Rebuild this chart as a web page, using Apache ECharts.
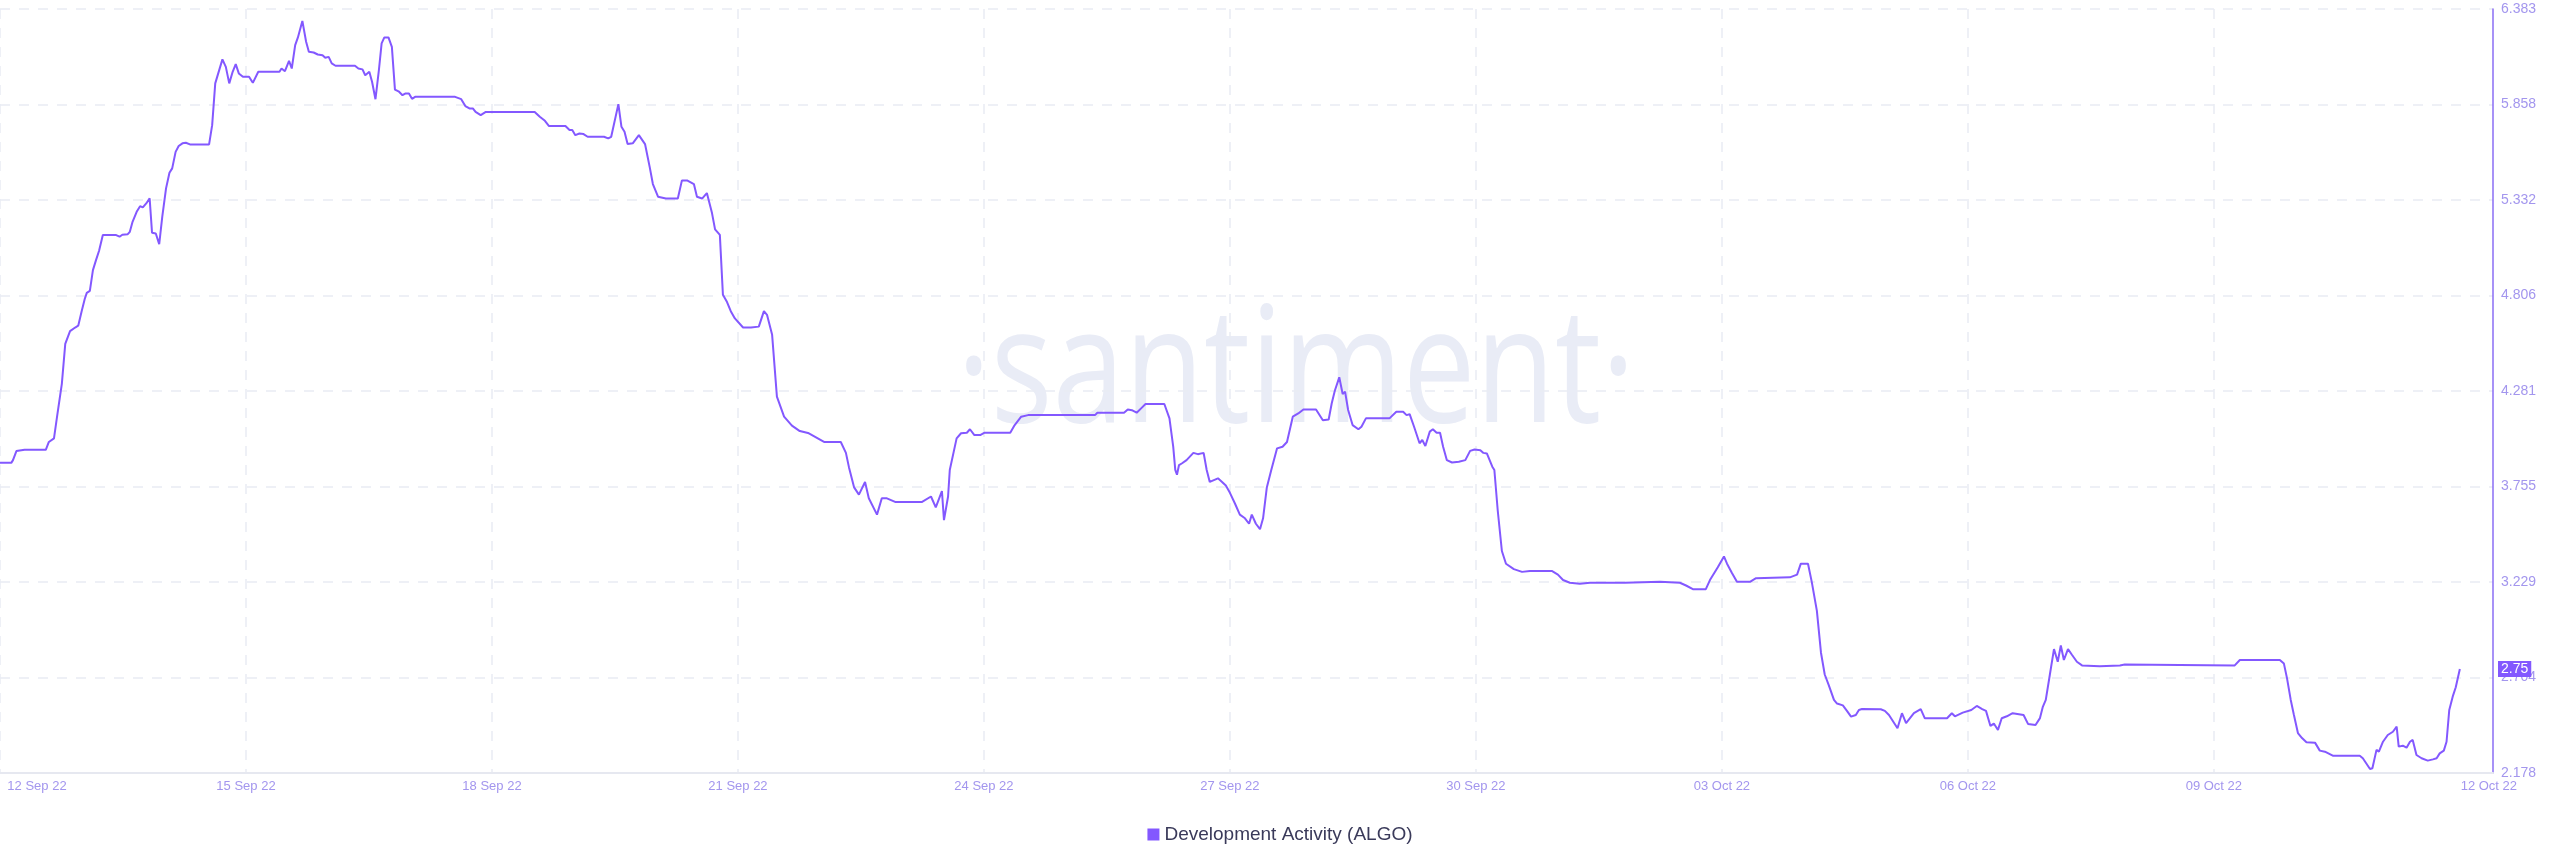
<!DOCTYPE html>
<html>
<head>
<meta charset="utf-8">
<script src="https://cdn.jsdelivr.net/npm/echarts@6/dist/echarts.min.js"></script>
<style>
html,body{margin:0;padding:0;background:#ffffff;}
#chart{width:2560px;height:867px;}
</style>
</head>
<body>
<div id="chart"></div>
<script>
// ---- data ----
const seriesName = 'Development Activity (ALGO)';
const startUTC = Date.UTC(2022, 8, 12); // 12 Sep 2022, hours are counted from here
const monthNames = ['Jan','Feb','Mar','Apr','May','Jun','Jul','Aug','Sep','Oct','Nov','Dec'];

const hours = [
0,3.3,3.8,4.8,7.2,13.4,14.3,15.8,16.7,18.1,19.1,20.5,22.0,22.9,23.9,
24.8,25.4,26.3,27.2,28.1,29.0,30.1,34.0,35.0,35.8,37.4,38.0,38.8,40.0,41.0,41.8,42.8,43.8,44.5,45.6,46.6,47.5,48.6,49.6,50.4,51.4,52.3,53.4,54.4,55.6,
61.2,62.1,63.0,65.1,66.1,67.1,68.1,69.0,69.9,71.1,72.9,74.0,75.6,81.8,82.4,83.4,84.6,85.4,86.4,87.2,88.5,89.6,90.4,91.8,93.0,94.4,95.2,96.2,97.1,98.2,
103.9,104.9,106.1,106.9,108.1,108.9,109.9,110.9,111.7,112.5,113.7,114.7,115.6,116.8,117.8,118.6,119.7,120.6,121.5,133.2,135.0,136.2,137.4,138.4,139.2,140.7,142.2,
156.5,158.0,159.5,160.7,165.5,166.7,167.5,168.4,169.6,170.8,172.0,176.8,178.0,178.9,181.0,181.9,182.8,183.7,185.2,187.0,
188.8,190.2,191.1,192.6,194.9,198.4,199.6,201.1,203.1,204.0,205.5,206.9,208.4,209.3,210.7,211.6,212.8,213.9,215.1,217.5,219.8,222.1,223.6,224.5,226.0,227.4,229.5,231.8,234.1,236.5,
241.2,246.1,247.6,248.5,250.0,251.4,253.2,254.3,256.7,258.1,259.6,262.0,269.9,272.5,273.9,275.7,276.3,277.5,278.0,
280.0,281.3,283.0,283.9,285.2,286.9,288.2,295.7,297.0,298.9,300.9,320.5,321.2,329.0,330.1,331.3,332.7,334.0,335.3,340.8,342.3,343.4,344.0,344.5,345.1,346.0,347.3,349.3,350.6,352.3,353.2,
354.1,355.3,356.5,357.7,358.8,360.0,361.5,362.9,364.4,365.6,366.4,367.6,368.8,369.7,370.8,372.1,373.8,375.4,376.7,378.4,380.0,381.5,385.2,387.2,388.9,389.8,390.7,392.0,393.0,393.7,394.6,395.9,397.6,398.5,399.8,
406.7,408.7,410.7,411.7,412.6,413.9,415.5,416.3,417.2,418.5,419.4,420.5,421.5,422.4,423.5,425.0,427.0,428.9,430.3,431.6,433.3,434.2,435.2,436.8,437.4,
438.4,439.6,440.8,443.1,445.5,447.8,454.2,456.0,457.5,459.5,462.4,465.4,475.6,485.9,491.7,493.5,495.5,499.3,500.5,502.8,504.6,505.5,506.9,508.4,512.2,514.0,523.9,526.0,527.1,529.2,530.3,531.8,533.0,534.1,535.3,
536.8,537.7,539.4,540.6,541.8,543.2,544.1,545.0,550.5,551.7,552.9,555.4,556.7,557.9,560.2,562.2,563.4,569.9,571.3,572.2,574.5,577.0,578.6,580.2,581.3,582.6,583.6,584.8,585.9,587.4,589.1,592.3,593.6,595.8,597.1,597.9,598.8,
600.0,601.2,602.3,603.2,604.1,605.3,606.4,607.9,609.4,614.6,620.5,621.9,654.1,655.6,667.3,668.5,669.4,670.5,671.4,672.6,673.8,675.1,677.6,679.0,680.5,682.8,690.7,691.6,693.7,694.4,695.6,696.3,697.5,698.9,700.4,701.5,
702.1,703.3,704.4,705.4,706.2,707.3,708.8,710.6,712.1,713.2,714.1,715.3,716.1,716.9,717.9,718.8,720.0
];

const values = [
3.885,3.885,3.90,3.95,3.957,3.957,4.00,4.02,4.14,4.32,4.54,4.61,4.63,4.64,4.72,
4.787,4.821,4.832,4.946,5.001,5.053,5.139,5.139,5.130,5.141,5.144,5.157,5.212,5.267,5.298,5.291,5.313,5.341,5.152,5.148,5.089,5.24,5.396,5.482,5.506,5.597,5.629,5.644,5.647,5.638,
5.638,5.744,5.974,6.106,6.065,5.974,6.038,6.080,6.029,6.010,6.010,5.977,6.038,6.038,6.056,6.041,6.098,6.056,6.185,6.227,6.318,6.203,6.148,6.144,6.133,6.129,6.115,6.120,6.084,6.071,
6.071,6.056,6.051,6.019,6.038,5.983,5.887,6.047,6.194,6.227,6.227,6.175,5.94,5.928,5.909,5.918,5.918,5.889,5.90,5.90,5.887,5.849,5.836,5.836,5.817,5.799,5.817,
5.817,5.79,5.768,5.739,5.739,5.717,5.717,5.689,5.698,5.695,5.68,5.68,5.671,5.68,5.86,5.735,5.708,5.64,5.644,5.689,
5.64,5.51,5.42,5.35,5.34,5.34,5.44,5.44,5.42,5.35,5.34,5.37,5.26,5.17,5.14,4.81,4.77,4.72,4.68,4.63,4.63,4.635,4.72,4.70,4.59,4.25,4.14,4.09,4.06,4.05,
4.00,4.00,3.94,3.86,3.75,3.71,3.78,3.69,3.60,3.69,3.69,3.67,3.67,3.70,3.64,3.73,3.57,3.70,3.846,
4.02,4.048,4.051,4.07,4.038,4.038,4.051,4.051,4.093,4.139,4.148,4.148,4.161,4.161,4.179,4.175,4.161,4.185,4.209,4.209,4.13,3.974,3.846,3.82,3.873,3.883,3.9,3.94,3.933,3.94,3.846,
3.78,3.79,3.80,3.78,3.76,3.72,3.66,3.60,3.58,3.55,3.60,3.55,3.52,3.58,3.75,3.846,3.965,3.974,4.0,4.139,4.157,4.179,4.179,4.12,4.124,4.213,4.282,4.356,4.264,4.277,4.176,4.093,4.07,4.084,4.13,
4.13,4.166,4.166,4.148,4.153,4.084,3.993,4.011,3.978,4.057,4.07,4.051,4.051,3.974,3.9,3.887,3.891,3.9,3.951,3.959,3.955,3.94,3.937,3.864,3.846,
3.62,3.40,3.33,3.30,3.285,3.29,3.29,3.27,3.24,3.225,3.22,3.225,3.225,3.23,3.225,3.21,3.19,3.19,3.24,3.31,3.37,3.33,3.28,3.23,3.23,3.25,3.255,3.27,3.33,3.33,3.23,3.07,2.84,2.72,2.66,
2.58,2.56,2.55,2.52,2.488,2.497,2.525,2.53,2.529,2.52,2.497,2.424,2.507,2.453,2.507,2.529,2.479,2.479,2.507,2.49,2.51,2.525,2.547,2.53,2.52,2.437,2.45,2.415,2.479,2.49,2.507,2.497,2.448,2.442,2.48,2.54,2.58,
2.72,2.86,2.79,2.88,2.80,2.86,2.83,2.79,2.77,2.765,2.77,2.775,2.77,2.80,2.80,2.78,2.70,2.58,2.50,2.398,2.37,2.347,2.345,2.301,2.295,2.273,2.273,2.259,2.20,2.204,2.305,2.295,2.35,2.387,2.405,2.433,
2.323,2.328,2.317,2.35,2.36,2.277,2.259,2.246,2.253,2.259,2.286,2.301,2.35,2.525,2.598,2.65,2.75
];

// axis extents and ticks
const xMaxHours = 729.7;      // right edge of the plot (a little past 12 Oct 00:00)
const xLabelHours = [0, 72, 144, 216, 288, 360, 432, 504, 576, 648, 720];   // 12 Sep ... 12 Oct
const xGridHours  = [0, 72, 144, 216, 288, 360, 432, 504, 576, 648];        // no grid line at 12 Oct
const yMin = 2.17785;
const yMax = 6.38345;
const yStep = 0.5257;

// ---- chart ----
const data = hours.map((h, i) => [h, values[i]]);

function fmtDate(h) {
  const d = new Date(startUTC + h * 3600000);
  const dd = String(d.getUTCDate()).padStart(2, '0');
  const yy = String(d.getUTCFullYear()).slice(2);
  return dd + ' ' + monthNames[d.getUTCMonth()] + ' ' + yy;
}

const lineColor = '#8358ff';
const labelColor = '#a396ee';
const gridColor = '#e9ebf3';
const FONT = '"Liberation Sans", Arial, sans-serif';

const chart = echarts.init(document.getElementById('chart'), null, {renderer: 'canvas'});
chart.setOption({
  animation: false,
  backgroundColor: '#ffffff',
  grid: {left: 0, right: 67, top: 9, bottom: 94, containLabel: false},
  graphic: [{
    type: 'text',
    z: -10,
    silent: true,
    x: 1296,
    y: 376,
    scaleX: 0.8,
    style: {
      text: '\u00b7santiment\u00b7',
      font: '162px "Open Sans", "Noto Sans", sans-serif',
      fill: '#e9ecf6',
      textAlign: 'center',
      textVerticalAlign: 'middle'
    }
  }],
  legend: {
    show: true,
    bottom: 18,
    left: 'center',
    icon: 'rect',
    itemWidth: 12,
    itemHeight: 12,
    itemGap: 8,
    textStyle: {fontSize: 19, color: '#3a3a5a', fontFamily: FONT},
    data: [seriesName]
  },
  xAxis: {
    type: 'value',
    min: 0,
    max: xMaxHours,
    axisLine: {show: true, onZero: false, lineStyle: {color: '#e6e8f0', width: 2}},
    axisTick: {show: false, customValues: xGridHours},
    splitLine: {show: true, lineStyle: {color: gridColor, width: 1.5, type: [10, 9]}},
    axisLabel: {
      customValues: xLabelHours,
      color: labelColor,
      fontSize: 13,
      fontFamily: FONT,
      margin: 7,
      formatter: function (v) {
        const s = fmtDate(v);
        if (v === 0) return '{a|' + s + '}';
        if (v === 720) return '{b|' + s + '}';
        return s;
      },
      rich: {
        a: {padding: [0, 0, 0, 74], color: labelColor, fontSize: 13, fontFamily: FONT},
        b: {padding: [0, 0, 0, 58], color: labelColor, fontSize: 13, fontFamily: FONT}
      }
    }
  },
  yAxis: {
    type: 'value',
    position: 'right',
    min: yMin,
    max: yMax,
    interval: yStep,
    axisLine: {show: true, onZero: false, lineStyle: {color: '#8a6ef5', width: 1.5}},
    axisTick: {show: false},
    splitLine: {show: true, lineStyle: {color: gridColor, width: 1.5, type: [10, 9]}},
    axisLabel: {
      color: labelColor,
      fontSize: 14,
      fontFamily: FONT,
      margin: 8,
      formatter: function (v) { return v.toFixed(3); }
    }
  },
  series: [{
    name: seriesName,
    type: 'line',
    data: data,
    showSymbol: false,
    symbol: 'none',
    lineStyle: {color: lineColor, width: 2},
    itemStyle: {color: lineColor},
    z: 5,
    markLine: {
      silent: true,
      symbol: 'none',
      animation: false,
      lineStyle: {color: 'rgba(0,0,0,0)', width: 1, type: 'solid'},
      label: {
        show: true,
        position: 'end',
        distance: 5,
        formatter: function (p) { return String(p.value); },
        backgroundColor: lineColor,
        color: '#ffffff',
        fontSize: 14,
        fontFamily: FONT,
        padding: [1, 3]
      },
      emphasis: {disabled: true},
      data: [{yAxis: values[values.length - 1]}]
    }
  }]
});
</script>
</body>
</html>
